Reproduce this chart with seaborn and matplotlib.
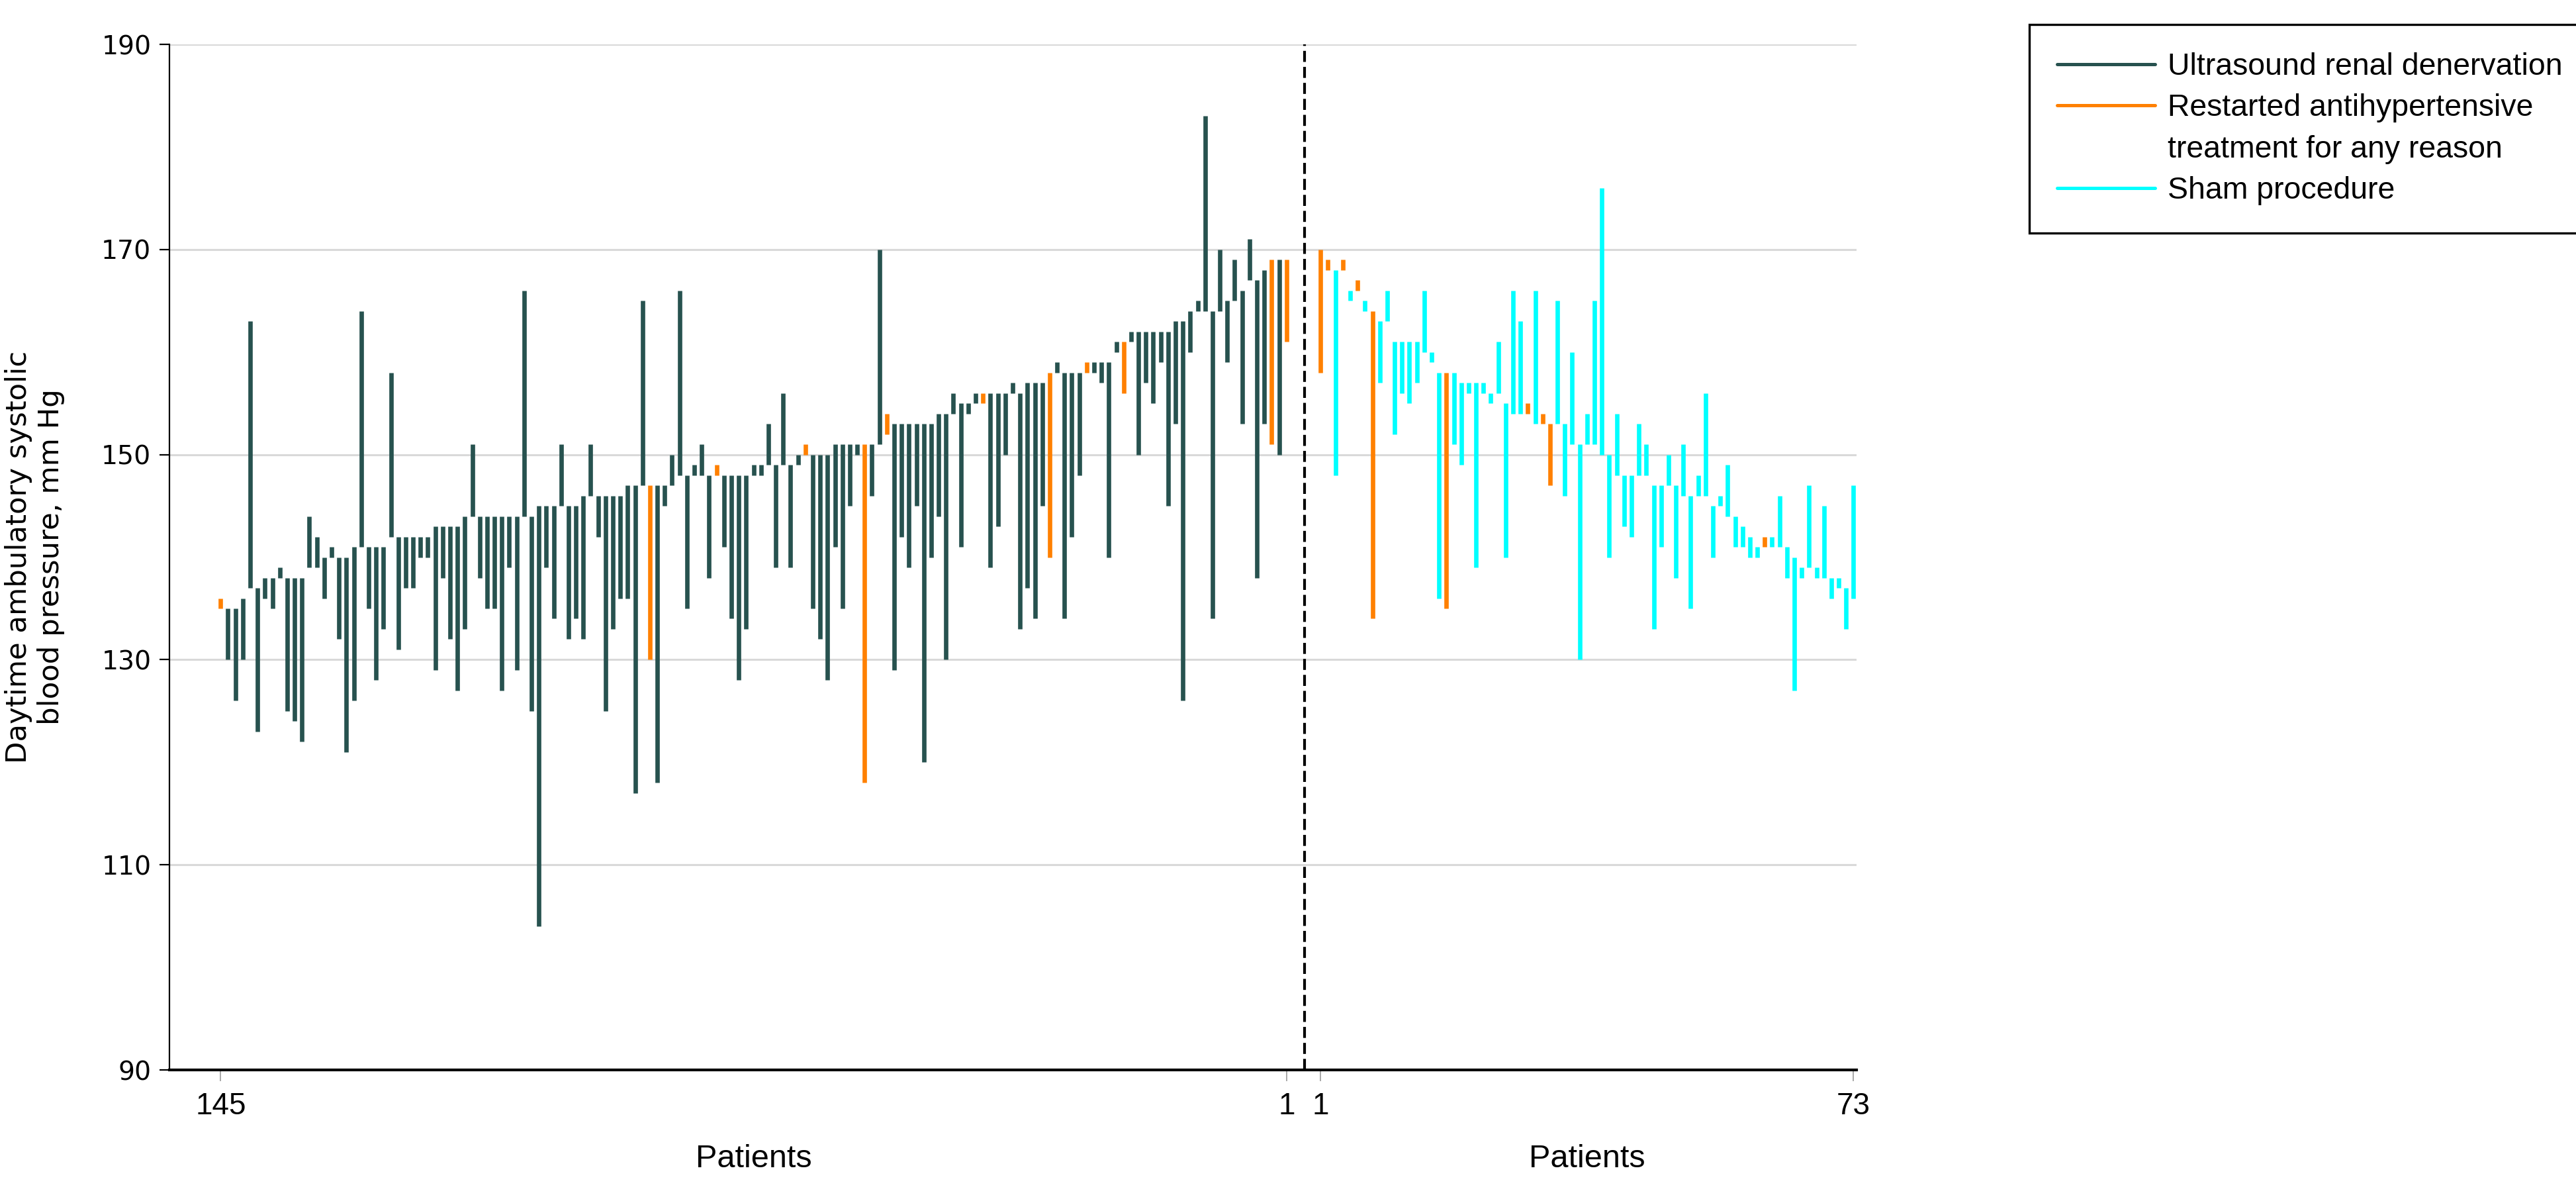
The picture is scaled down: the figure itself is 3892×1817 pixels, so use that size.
import numpy as np
import pandas as pd
import matplotlib
matplotlib.use("Agg")
import matplotlib.pyplot as plt
from matplotlib.lines import Line2D
from matplotlib.transforms import blended_transform_factory
import seaborn as sns

# Ultrasound renal denervation group, in plotted order (patient 145 ... 1)
denerv_baseline = [
    135, 135, 135, 136, 137, 137, 138, 138, 138, 138,
    138, 138, 139, 139, 140, 140, 140, 140, 141, 141,
    141, 141, 141, 142, 142, 142, 142, 142, 142, 143,
    143, 143, 143, 144, 144, 144, 144, 144, 144, 144,
    144, 144, 144, 145, 145, 145, 145, 145, 145, 146,
    146, 146, 146, 146, 146, 147, 147, 147, 147, 147,
    147, 147, 148, 148, 148, 148, 148, 148, 148, 148,
    148, 148, 148, 149, 149, 149, 149, 149, 149, 150,
    150, 150, 150, 151, 151, 151, 151, 151, 151, 151,
    152, 153, 153, 153, 153, 153, 153, 154, 154, 154,
    155, 155, 155, 155, 156, 156, 156, 156, 156, 157,
    157, 157, 158, 158, 158, 158, 158, 158, 158, 159,
    159, 160, 161, 161, 162, 162, 162, 162, 162, 163,
    163, 164, 164, 164, 164, 164, 165, 165, 166, 167,
    167, 168, 169, 169, 169,
]
denerv_followup = [
    136, 130, 126, 130, 163, 123, 136, 135, 139, 125,
    124, 122, 144, 142, 136, 141, 132, 121, 126, 164,
    135, 128, 133, 158, 131, 137, 137, 140, 140, 129,
    138, 132, 127, 133, 151, 138, 135, 135, 127, 139,
    129, 166, 125, 104, 139, 134, 151, 132, 134, 132,
    151, 142, 125, 133, 136, 136, 117, 165, 130, 118,
    145, 150, 166, 135, 149, 151, 138, 149, 141, 134,
    128, 133, 149, 148, 153, 139, 156, 139, 150, 151,
    135, 132, 128, 141, 135, 145, 150, 118, 146, 170,
    154, 129, 142, 139, 145, 120, 140, 144, 130, 156,
    141, 154, 156, 156, 139, 143, 150, 157, 133, 137,
    134, 145, 140, 159, 134, 142, 148, 159, 159, 157,
    140, 161, 156, 162, 150, 157, 155, 159, 145, 153,
    126, 160, 165, 183, 134, 170, 159, 169, 153, 171,
    138, 153, 151, 150, 161,
]
# plotted positions (1-based) of patients who restarted treatment
denerv_restarted = [1, 59, 68, 80, 88, 91, 104, 113, 118, 123, 143, 145]

# Sham procedure group, in plotted order (patient 1 ... 73)
sham_baseline = [
    170, 169, 168, 168, 166, 166, 165, 164, 163, 163,
    161, 161, 161, 161, 160, 160, 158, 158, 158, 157,
    157, 157, 157, 156, 156, 155, 154, 154, 154, 153,
    153, 153, 153, 153, 151, 151, 151, 151, 150, 150,
    148, 148, 148, 148, 148, 147, 147, 147, 147, 146,
    146, 146, 146, 145, 145, 144, 144, 143, 142, 141,
    141, 141, 141, 141, 140, 139, 139, 139, 138, 138,
    138, 137, 136,
]
sham_followup = [
    158, 168, 148, 169, 165, 167, 164, 134, 157, 166,
    152, 156, 155, 157, 166, 159, 136, 135, 151, 149,
    156, 139, 156, 155, 161, 140, 166, 163, 155, 166,
    154, 147, 165, 146, 160, 130, 154, 165, 176, 140,
    154, 143, 142, 153, 151, 133, 141, 150, 138, 151,
    135, 148, 156, 140, 146, 149, 141, 141, 140, 140,
    142, 142, 146, 138, 127, 138, 147, 138, 145, 136,
    137, 133, 147,
]
sham_restarted = [1, 2, 4, 6, 8, 18, 29, 31, 32, 61]

LBL_DEN = "Ultrasound renal denervation"
LBL_RES = "Restarted antihypertensive treatment for any reason"
LBL_SHAM = "Sham procedure"
palette = {LBL_DEN: "#27524f", LBL_RES: "#ff8000", LBL_SHAM: "#00ffff"}

n_den = len(denerv_baseline)
n_sham = len(sham_baseline)
den_pos = np.arange(n_den)
divider = n_den + 1.4
sham_pos = n_den + 3.6 + np.arange(n_sham)

# long table: two rows (baseline, follow-up) per patient
rows = []
for i in range(n_den):
    grp = LBL_RES if (i + 1) in denerv_restarted else LBL_DEN
    for v in (denerv_baseline[i], denerv_followup[i]):
        rows.append({"pid": f"d{i}", "pos": den_pos[i], "sbp": v, "group": grp})
for i in range(n_sham):
    grp = LBL_RES if (i + 1) in sham_restarted else LBL_SHAM
    for v in (sham_baseline[i], sham_followup[i]):
        rows.append({"pid": f"s{i}", "pos": sham_pos[i], "sbp": v, "group": grp})
df = pd.DataFrame(rows)

sns.set_style("white")
plt.rcParams['font.family'] = ['Liberation Sans', 'DejaVu Sans']
plt.rcParams['text.color'] = 'black'
plt.rcParams['xtick.labelcolor'] = 'black'
plt.rcParams['ytick.labelcolor'] = 'black'

fig = plt.figure(figsize=(19.46, 9.085), dpi=200)
ax = fig.add_axes([0.0658, 0.1106, 0.6549, 0.8525])

sns.lineplot(data=df, x="pos", y="sbp", hue="group", units="pid", estimator=None,
             palette=palette, linewidth=2.4, sort=False, legend=False, ax=ax,
             solid_capstyle="butt")

ax.axvline(divider, color="black", linestyle=(0, (4, 1.8)), linewidth=1.5, zorder=3)

ax.set_ylim(90, 190)
ax.set_yticks(range(90, 191, 20))
ax.set_xlim(-6.9, sham_pos[-1] + 0.4)
ax.set_xticks([den_pos[0], den_pos[-1], sham_pos[0], sham_pos[-1]])
ax.set_xticklabels([str(n_den), "1", "1", str(n_sham)])
ax.grid(axis="y", color="#d9d9d9", linewidth=1.1)
ax.set_axisbelow(True)

for s in ["top", "right"]:
    ax.spines[s].set_visible(False)
ax.spines["bottom"].set_linewidth(1.5)
ax.spines["bottom"].set_color("black")
ax.spines["left"].set_linewidth(0.8)
ax.spines["left"].set_color("black")
ax.tick_params(axis="x", length=6, width=0.6, color="#999999", labelcolor="black",
               pad=6, labelsize=16.5, bottom=True)
ax.tick_params(axis="y", length=5.4, width=0.8, color="black", labelcolor="black",
               pad=4.6, left=True)
for lab in ax.get_yticklabels():
    lab.set_fontfamily("DejaVu Sans")
    lab.set_fontsize(14.2)

ax.set_xlabel("")
ax.set_ylabel("")
trans = blended_transform_factory(ax.transData, ax.transAxes)
ax.text((den_pos[0] + den_pos[-1]) / 2, -0.087, "Patients", transform=trans,
        ha="center", va="center", fontsize=17.5, color="black")
ax.text((sham_pos[0] + sham_pos[-1]) / 2, -0.087, "Patients", transform=trans,
        ha="center", va="center", fontsize=17.5, color="black")
fig.text(0.0135, 0.537, "Daytime ambulatory systolic\nblood pressure, mm Hg",
         rotation=90, ha="center", va="center", multialignment="center",
         fontsize=15.6, family="DejaVu Sans", color="black")

handles = [
    Line2D([], [], color=palette[LBL_DEN], linewidth=1.8),
    Line2D([], [], color=palette[LBL_RES], linewidth=1.8),
    Line2D([], [], color="none"),
    Line2D([], [], color=palette[LBL_SHAM], linewidth=1.8),
]
labels = ["Ultrasound renal denervation", "Restarted antihypertensive",
          "treatment for any reason", "Sham procedure"]
leg = fig.legend(handles, labels, loc="upper left", bbox_to_anchor=(0.7878, 0.9796),
                 borderaxespad=0, frameon=True, fancybox=False, edgecolor="black",
                 framealpha=1, handlelength=3.2, handletextpad=0.4, labelspacing=0.40,
                 borderpad=0.9, fontsize=16.7, labelcolor="black")
leg.get_frame().set_linewidth(1.2)

fig.savefig("out.png", dpi=200)
